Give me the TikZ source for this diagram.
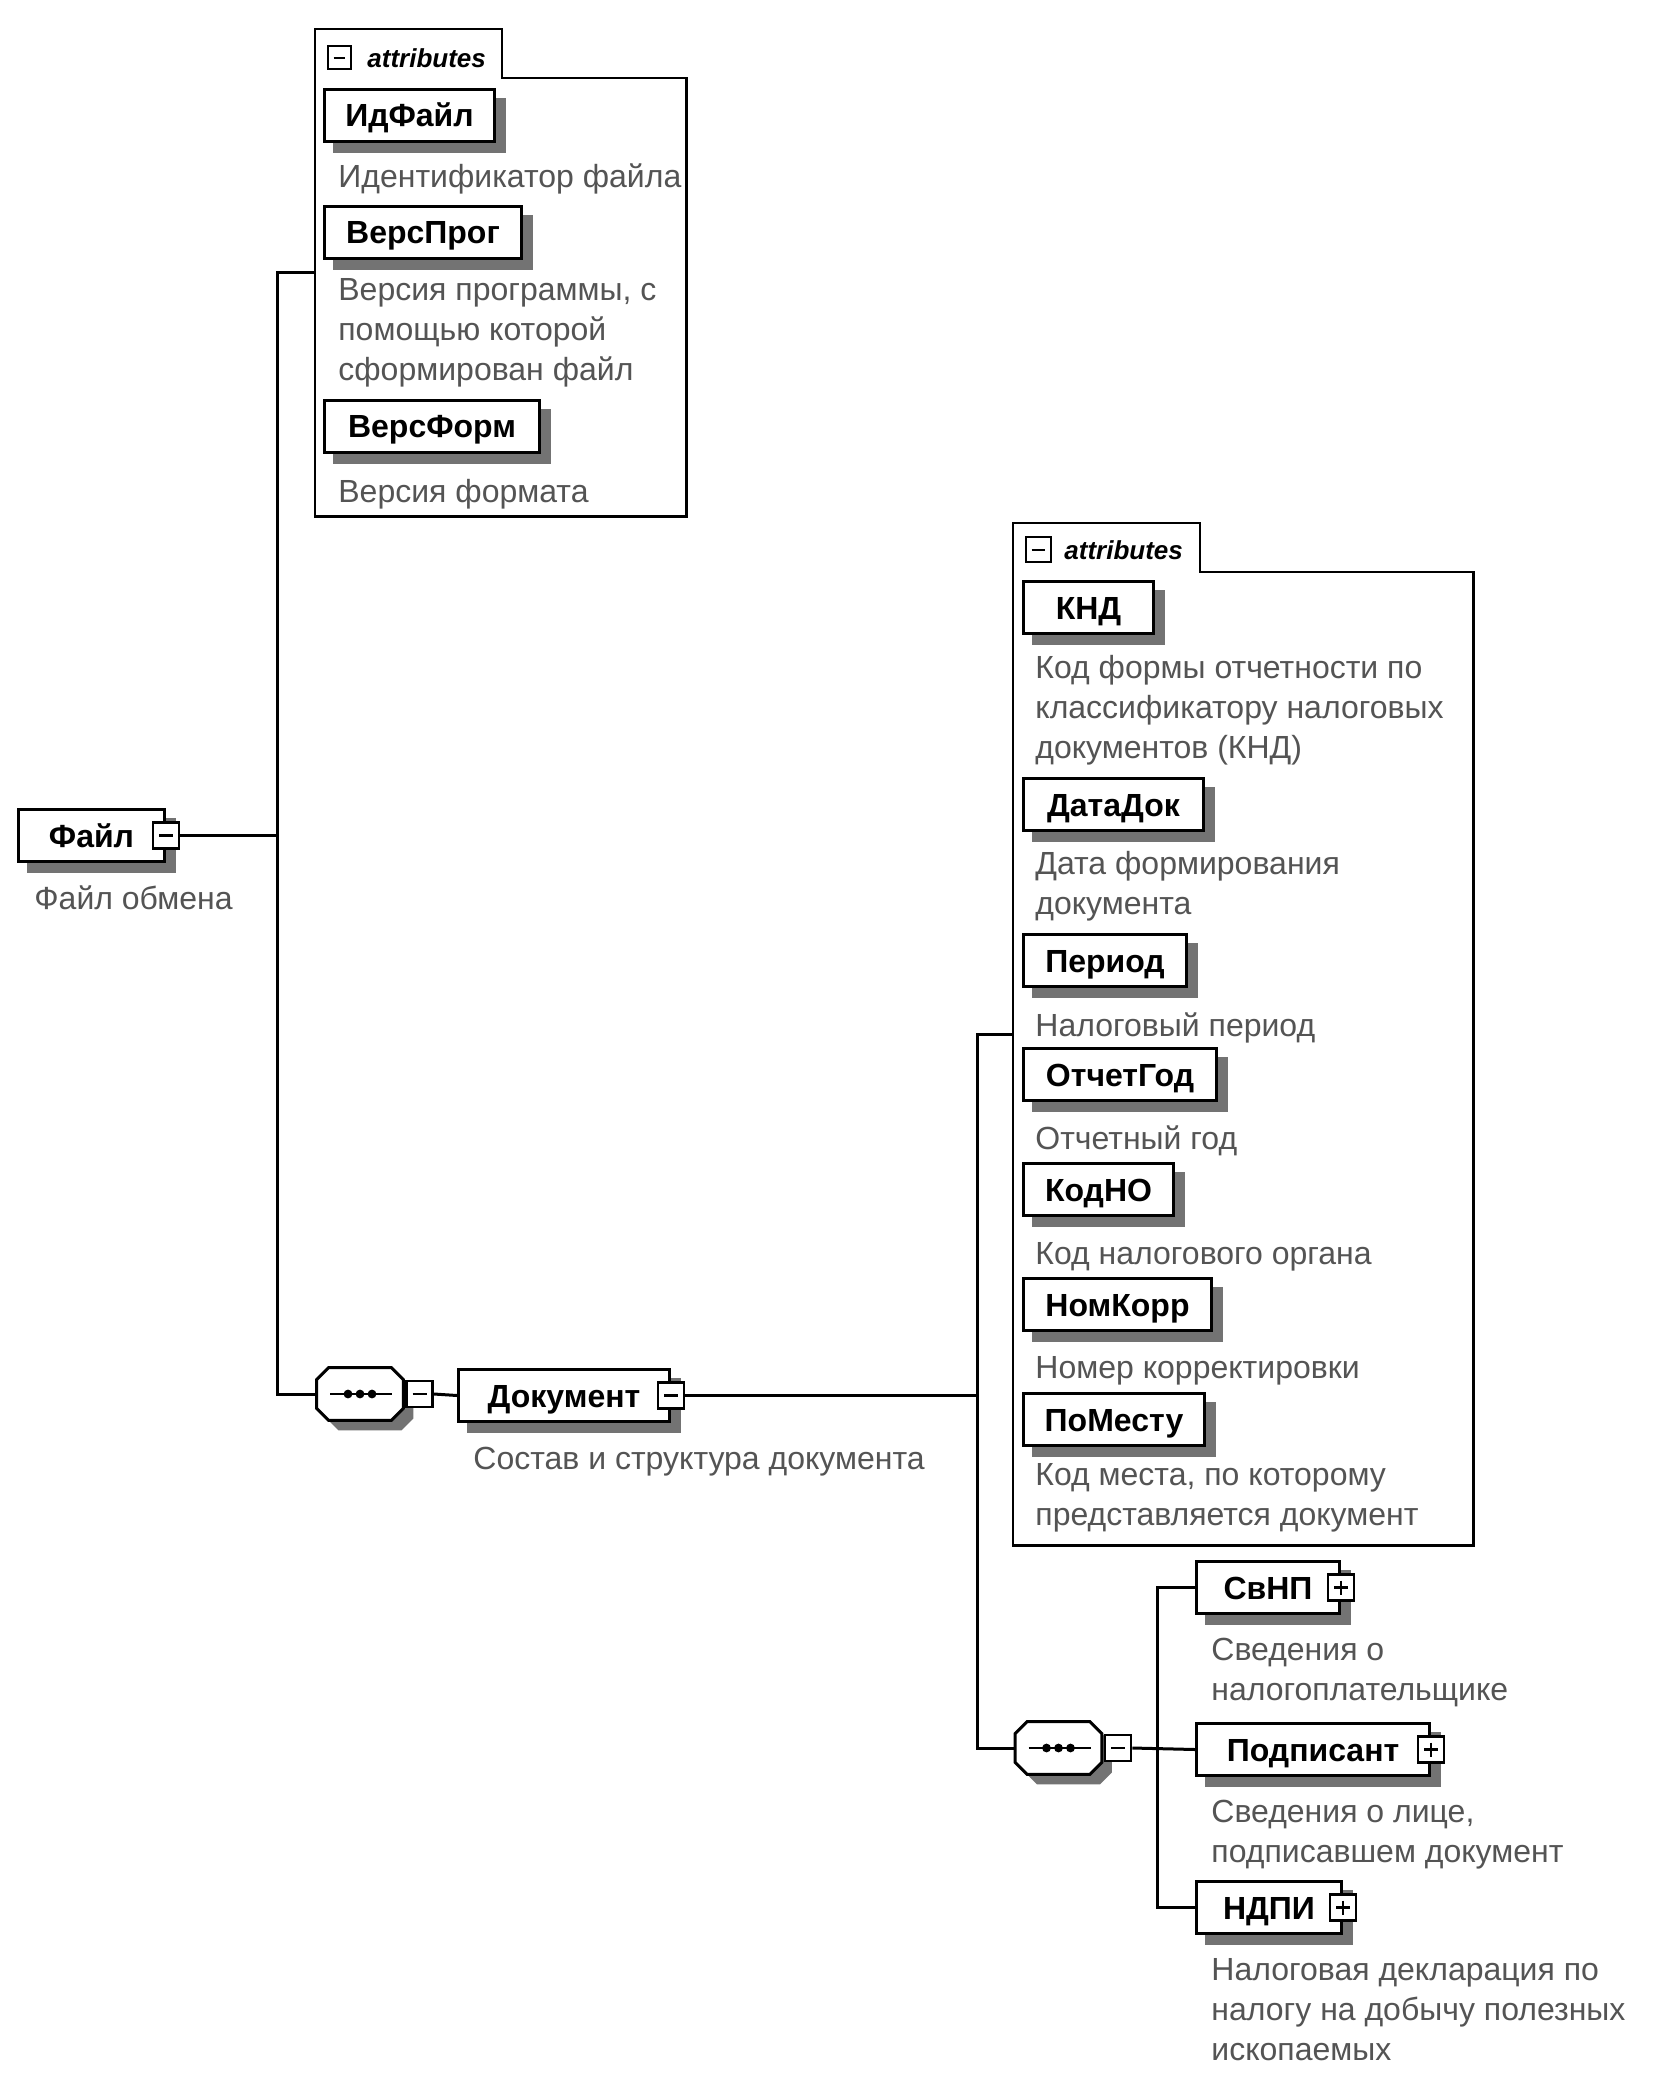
\documentclass[tikz,border=0pt]{standalone}
\usepackage{fontspec}
\setmainfont{Liberation Sans}
\usetikzlibrary{calc}
\pgfdeclarelayer{background}
\pgfsetlayers{background,main}
\definecolor{desccol}{gray}{0.33}
\definecolor{shadowc}{gray}{0.45}
\tikzset{
 elem/.style={draw, line width=1.5pt, fill=white, minimum height=26pt, inner xsep=3pt, inner ysep=0pt,
   text height=11.5pt, text depth=0pt, font=\fontsize{16}{20}\selectfont\bfseries, anchor=north west},
 icon/.style={draw, line width=1.2pt, fill=white, minimum size=13pt, inner sep=0pt},
 minusicon/.style={icon, path picture={\draw[line width=1.2pt] ([xshift=3pt]path picture bounding box.west) -- ([xshift=-3pt]path picture bounding box.east);}},
 plusicon/.style={icon, path picture={\draw[line width=1.2pt] ([xshift=3pt]path picture bounding box.west) -- ([xshift=-3pt]path picture bounding box.east);
   \draw[line width=1.2pt] ([yshift=-3pt]path picture bounding box.north) -- ([yshift=3pt]path picture bounding box.south);}},
 desc/.style={anchor=north west, inner sep=0pt, align=left, text=desccol, font=\fontsize{16}{20}\selectfont, execute at begin node=\strut},
 conn/.style={line width=1.5pt},
 container/.style={line width=1.4pt},
 attrlbl/.style={anchor=west, inner sep=0pt, font=\fontsize{13}{16}\selectfont\bfseries\itshape},
 seqnode/.style={minimum width=43pt, minimum height=26pt, inner sep=0pt},
 holder/.style={inner sep=0pt, anchor=north west},
}
\newcommand\shd[1]{\begin{pgfonlayer}{background}\fill[shadowc] ($(#1.north west)+(10,10)$) rectangle ($(#1.south east)+(10,10)$);\end{pgfonlayer}}
\newcommand\octagon[1]{%
 \begin{pgfonlayer}{background}
 \fill[shadowc] ($(#1.north west)+(22,10)$) -- ($(#1.north east)+(-2,10)$) -- ($(#1.north east)+(10,22)$) -- ($(#1.south east)+(10,-2)$) -- ($(#1.south east)+(-2,10)$) -- ($(#1.south west)+(22,10)$) -- ($(#1.south west)+(10,-2)$) -- ($(#1.north west)+(10,22)$) -- cycle;
 \end{pgfonlayer}
 \draw[line width=1.5pt, fill=white] ($(#1.north west)+(12,0)$) -- ($(#1.north east)+(-12,0)$) -- ($(#1.north east)+(0,12)$) -- ($(#1.south east)+(0,-12)$) -- ($(#1.south east)+(-12,0)$) -- ($(#1.south west)+(12,0)$) -- ($(#1.south west)+(0,-12)$) -- ($(#1.north west)+(0,12)$) -- cycle;
 \draw[line width=1.2pt] ($(#1.center)+(-30,0)$) -- ($(#1.center)+(32,0)$);
 \foreach \dx in {-12,0,12} \fill ($(#1.center)+(\dx,0)$) circle (2.2pt);
}
\begin{document}
\begin{tikzpicture}[x=0.5pt,y=-0.5pt]
\begin{pgfonlayer}{background}
\fill[white] (0,0) rectangle (1654,2080);
\end{pgfonlayer}
\useasboundingbox (0,0) rectangle (1654,2080);

% ---------- left attributes container
\node[holder, minimum width=185.5pt, minimum height=243.5pt] (attrL) at (315,29) {};
\draw[container] (attrL.north west) -- ++(187,0) |- ($(attrL.north east)+(0,49)$) -- (attrL.south east) -- (attrL.south west) -- cycle;
\node[minusicon, line width=1pt, minimum size=11.5pt] (attrLm) at ($(attrL.north west)+(24,29)$) {};
\node[attrlbl] (attrLt) at ($(attrL.north west)+(52,29)$) {attributes};

\node[elem, minimum width=85pt] (idfile) at (323,88) {ИдФайл}; \shd{idfile}
\node[desc] (idfiled) at (338,159) {Идентификатор файла};
\node[elem, minimum width=98.5pt] (versprog) at (323,205) {ВерсПрог}; \shd{versprog}
\node[desc] (versprogd) at (338,278) {Версия программы, с\\помощью которой\\сформирован файл};
\node[elem, minimum width=107.5pt] (versform) at (323,399) {ВерсФорм}; \shd{versform}
\node[desc] (versformd) at (338,474) {Версия формата};

% ---------- root
\node[elem, minimum width=73pt] (fayl) at (17,808) {Файл}; \shd{fayl}
\node[minusicon] (faylm) at (fayl.east) {};
\node[desc] (fayld) at (34,881) {Файл обмена};

% ---------- sequence 1 and Документ
\node[seqnode] (seq1) at (360,1394) {};
\octagon{seq1}
\node[minusicon, anchor=west] (seq1m) at ([xshift=1pt]seq1.east) {};
\node[elem, minimum width=105.5pt] (doc) at (457,1368) {Документ}; \shd{doc}
\node[minusicon] (docm) at (doc.east) {};
\node[desc] (docd) at (473,1441) {Состав и структура документа};

% ---------- right attributes container
\node[holder, minimum width=230pt, minimum height=511pt] (attrR) at (1013,523) {};
\draw[container] (attrR.north west) -- ++(187,0) |- ($(attrR.north east)+(0,49)$) -- (attrR.south east) -- (attrR.south west) -- cycle;
\node[minusicon, line width=1pt, minimum size=12.5pt] (attrRm) at ($(attrR.north west)+(25,27)$) {};
\node[attrlbl] (attrRt) at ($(attrR.north west)+(51,27)$) {attributes};

\node[elem, minimum width=65pt] (knd) at (1022,580) {КНД}; \shd{knd}
\node[desc] (kndd) at (1035,655) {Код формы отчетности по\\классификатору налоговых\\документов (КНД)};
\node[elem, minimum width=90pt] (datadok) at (1022,777) {ДатаДок}; \shd{datadok}
\node[desc] (datadokd) at (1035,851) {Дата формирования\\документа};
\node[elem, minimum width=81.5pt] (period) at (1022,933) {Период}; \shd{period}
\node[desc] (periodd) at (1035,1008) {Налоговый период};
\node[elem, minimum width=96.5pt] (otchgod) at (1022,1047) {ОтчетГод}; \shd{otchgod}
\node[desc] (otchgodd) at (1035,1121) {Отчетный год};
\node[elem, minimum width=75pt] (kodno) at (1022,1162) {КодНО}; \shd{kodno}
\node[desc] (kodnod) at (1035,1236) {Код налогового органа};
\node[elem, minimum width=94pt] (nomkorr) at (1022,1277) {НомКорр}; \shd{nomkorr}
\node[desc] (nomkorrd) at (1035,1350) {Номер корректировки};
\node[elem, minimum width=90.5pt] (pomestu) at (1022,1392) {ПоМесту}; \shd{pomestu}
\node[desc] (pomestud) at (1035,1463) {Код места, по которому\\представляется документ};

% ---------- sequence 2 and children
\node[seqnode] (seq2) at (1058.5,1748) {};
\octagon{seq2}
\node[minusicon, anchor=west] (seq2m) at ([xshift=1pt]seq2.east) {};
\node[elem, minimum width=71.5pt] (svnp) at (1195,1560) {СвНП}; \shd{svnp}
\node[plusicon] (svnpp) at (svnp.east) {};
\node[desc] (svnpd) at (1211,1638) {Сведения о\\налогоплательщике};
\node[elem, minimum width=116.5pt] (podp) at (1195,1722) {Подписант}; \shd{podp}
\node[plusicon] (podpp) at (podp.east) {};
\node[desc] (podpd) at (1211,1800) {Сведения о лице,\\подписавшем документ};
\node[elem, minimum width=72.5pt] (ndpi) at (1195,1880) {НДПИ}; \shd{ndpi}
\node[plusicon] (ndpip) at (ndpi.east) {};
\node[desc] (ndpid) at (1211,1958) {Налоговая декларация по\\налогу на добычу полезных\\ископаемых};

% ---------- connectors
\coordinate (xL) at (277,0);
\coordinate (xM) at (977,0);
\coordinate (xR) at (1157,0);
\draw[conn] (faylm.east) -- (faylm.east -| xL);
\draw[conn] (attrL.west) -- (attrL.west -| xL) -- (xL |- seq1.west) -- (seq1.west);
\draw[conn] (seq1m.east) -- (doc.west);
\draw[conn] (docm.east) -- (docm.east -| xM);
\draw[conn] (attrR.west) -- (attrR.west -| xM) -- (xM |- seq2.west) -- (seq2.west);
\draw[conn] (seq2m.east) -- (podp.west);
\draw[conn] (svnp.west) -- (svnp.west -| xR) -- (xR |- ndpi.west) -- (ndpi.west);
\end{tikzpicture}
\end{document}
